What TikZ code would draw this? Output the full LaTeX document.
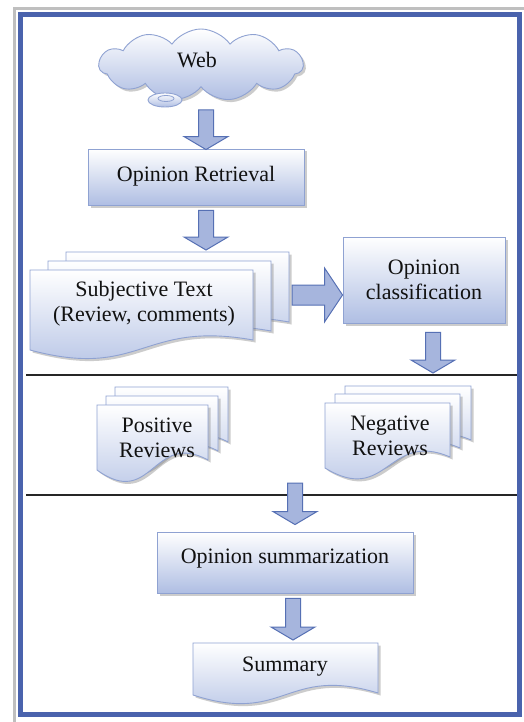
\documentclass[tikz,border=0pt]{standalone}
\usepackage{fontspec}
\setmainfont{Liberation Serif}
\usetikzlibrary{shapes.symbols,shadows,calc}
\definecolor{frameblue}{HTML}{4A63AD}
\definecolor{boxedge}{HTML}{8FA2D2}
\definecolor{boxbot}{HTML}{AFBEE3}
\definecolor{arrfill}{HTML}{A6B5DD}
\definecolor{arredge}{HTML}{5670B4}
\definecolor{txt}{HTML}{111111}
\tikzset{
 fillshade/.style={top color=white, bottom color=boxbot, draw=boxedge, line width=0.9pt},
 shad/.style={drop shadow={shadow xshift=2.5pt, shadow yshift=-2.5pt, fill=black!50, opacity=0.4}},
 box/.style={fillshade, shad, rectangle, inner sep=0pt, font=\fontsize{22}{25}\selectfont, text=txt, align=center},
 boxline/.style={text height=15pt, text depth=5pt},
 lbl/.style={inner sep=0pt, font=\fontsize{22}{25}\selectfont, text=txt, align=center},
 docsh/.style={fillshade, shad},
 arr/.style={fill=arrfill, draw=arredge, line width=1pt, line join=miter},
 rulel/.style={draw=black!85, line width=2pt},
}
\newcommand\docshape[6]{%
 \path[docsh] (#1,#2) -- (#3,#2) -- (#3,{#4+#6}) .. controls ({(#1+#3)/2},{#4-#5}) and ({(#1+#3)/2},{#4+#5}) .. (#1,#4) -- cycle;}
\newcommand\vblk[2]{%
 \path[arr] let \p1=(#1), \p2=(#2) in (\x1-7.5pt,\y1) -- (\x1+7.5pt,\y1) -- (\x1+7.5pt,\y2+13pt) -- (\x1+22pt,\y2+13pt) -- (\x1,\y2) -- (\x1-22pt,\y2+13pt) -- (\x1-7.5pt,\y2+13pt) -- cycle;}
\newcommand\hblk[2]{%
 \path[arr] let \p1=(#1), \p2=(#2) in (\x1,\y1+10pt) -- (\x2-18pt,\y1+10pt) -- (\x2-18pt,\y1+27pt) -- (\x2,\y1) -- (\x2-18pt,\y1-27pt) -- (\x2-18pt,\y1-10pt) -- (\x1,\y1-10pt) -- cycle;}
\begin{document}
\begin{tikzpicture}[x=1pt,y=-1pt]
\useasboundingbox (0,0) rectangle (524,722);
\fill[white] (0,0) rectangle (524,722);
% frame shadow
\draw[black!25, line width=3pt] (14.5,722) -- (14.5,8.5) -- (524,8.5);
% cloud
\node[cloud, cloud puffs=11, cloud puff arc=110, aspect=2.7, minimum width=204pt, minimum height=72pt, fillshade, shad, inner sep=0pt] (web) at (201,65) {};
\draw[fillshade] (165,100) ellipse [x radius=17, y radius=7];
\draw[boxedge, line width=0.8pt] (166,98.5) ellipse [x radius=8, y radius=3];
\node[lbl] (webtxt) at (197,60) {Web};
% Opinion retrieval
\node[box, boxline, minimum width=216pt, minimum height=56pt] (ret) at (196,177) {Opinion Retrieval};
\vblk{$(web.center)+(5,45)$}{$(ret.north)+(0,1)$}
% Subjective text stack
\docshape{66}{252}{289}{332}{30}{-10}
\docshape{48}{261}{271}{341}{30}{-10}
\docshape{30}{270}{253}{350}{30}{-10}
\coordinate (subjtop) at (177,252);
\coordinate (subjright) at (292,295);
\node[lbl] (subj) at (144,304) {Subjective Text\\(Review, comments)};
\vblk{$(ret.south)+(10,5)$}{$(subjtop)+(0,-2)$}
% classification
\node[box, minimum width=162pt, minimum height=86pt] (cls) at (424,280) {Opinion\\classification};
\hblk{subjright}{cls.west}
% separators
\coordinate (h1a) at (26,375);
\coordinate (h1b) at (518,375);
\coordinate (h2a) at (26,495);
\coordinate (h2b) at (518,495);
\draw[rulel] (h1a) -- (h1b);
\vblk{$(cls.south)+(9,9)$}{$(h1b)+(0,-2)$}
% positive stack
\docshape{115}{387}{228}{452}{40}{-10}
\docshape{106}{396}{218}{461}{40}{-10}
\docshape{97}{405}{208}{470}{40}{-10}
\node[lbl] (pos) at (157,437.5) {Positive\\Reviews};
% negative stack
\docshape{345}{386}{471}{451}{38}{-11}
\docshape{335}{394}{460}{459}{38}{-11}
\docshape{325}{403}{450}{468}{38}{-11}
\node[lbl] (neg) at (390,435.5) {Negative\\Reviews};
\draw[rulel] (h2a) -- (h2b);
% summarization
\node[box, minimum width=256pt, minimum height=61pt, text height=16pt, text depth=15pt] (osum) at (285,562.5) {Opinion summarization};
\vblk{$(h2a)+(269,-12)$}{$(osum.north)+(0,-7)$}
% summary
\docshape{193}{643}{378}{695}{30}{-2}
\coordinate (summtop) at (285,643);
\node[lbl] (summ) at (285,667) {Summary};
\vblk{$(osum.south)+(8,5)$}{$(summtop)+(0,-3)$}
% frame
\draw[frameblue, line width=5pt] (20.5,14.5) rectangle (519.5,714.5);
\end{tikzpicture}
\end{document}
